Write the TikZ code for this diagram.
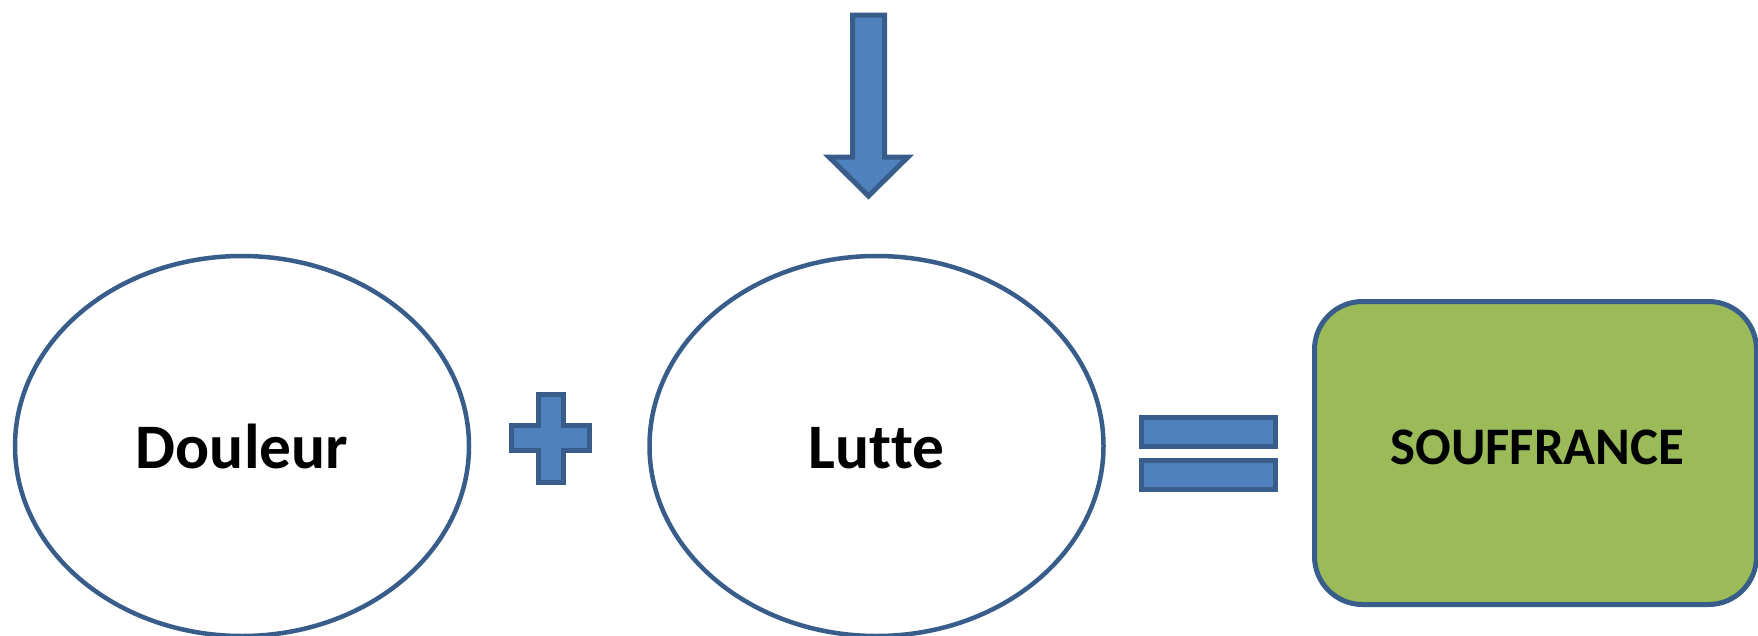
\documentclass[tikz,border=0pt]{standalone}
\usepackage{fontspec}
\setmainfont{Carlito}[Ligatures=NoCommon]
\usetikzlibrary{shapes.geometric}
\definecolor{accblue}{HTML}{4F81BD}
\definecolor{edgeblue}{HTML}{385D8A}
\definecolor{accgreen}{HTML}{9BBB59}
\tikzset{
  oval/.style={ellipse, draw=edgeblue, line width=4.5pt, fill=white,
    minimum width=454pt, minimum height=380pt, inner sep=0pt},
  lbl/.style={font=\fontsize{63.4}{70}\selectfont\bfseries, text=black, inner sep=0pt},
  symb/.style={draw=edgeblue, fill=accblue, line width=5pt, line join=miter},
  resbox/.style={rectangle, rounded corners=48pt, draw=edgeblue, fill=accgreen,
    line width=5pt, minimum width=442pt, minimum height=303pt, inner sep=0pt},
  reslbl/.style={font=\fontsize{52.8}{60}\selectfont\bfseries, text=black, inner sep=0pt}
}
\begin{document}
\begin{tikzpicture}[x=1pt,y=-1pt]
\useasboundingbox (0,0) rectangle (1758,635);
% ellipses
\node[oval] (douleur) at (242,446) {};
\node[lbl, anchor=base] (tdouleur) at ([yshift=-22pt]douleur.center) {Douleur};
\node[oval] (lutte) at (876.5,446) {};
\node[lbl, anchor=base] (tlutte) at ([yshift=-22pt]lutte.center) {Lutte};
% result box
\node[resbox] (souffrance) at (1535.5,453) {};
\node[reslbl, anchor=base] (tsouffrance) at ([xshift=2pt,yshift=-11pt]souffrance.center) {SOUFFRANCE};
% down arrow
\draw[symb] (852.5,15) -- (884.5,15) -- (884.5,157) -- (908,157) -- (868.5,196)
  -- (829,157) -- (852.5,157) -- cycle;
% plus
\draw[symb] (538.5,394.5) -- (563.5,394.5) -- (563.5,425.5) -- (589.5,425.5)
  -- (589.5,450.5) -- (563.5,450.5) -- (563.5,482.5) -- (538.5,482.5)
  -- (538.5,450.5) -- (511.5,450.5) -- (511.5,425.5) -- (538.5,425.5) -- cycle;
% equals
\draw[symb] (1141.5,417.5) rectangle (1275.5,446.5);
\draw[symb] (1141.5,460.5) rectangle (1275.5,489.5);
\end{tikzpicture}
\end{document}
